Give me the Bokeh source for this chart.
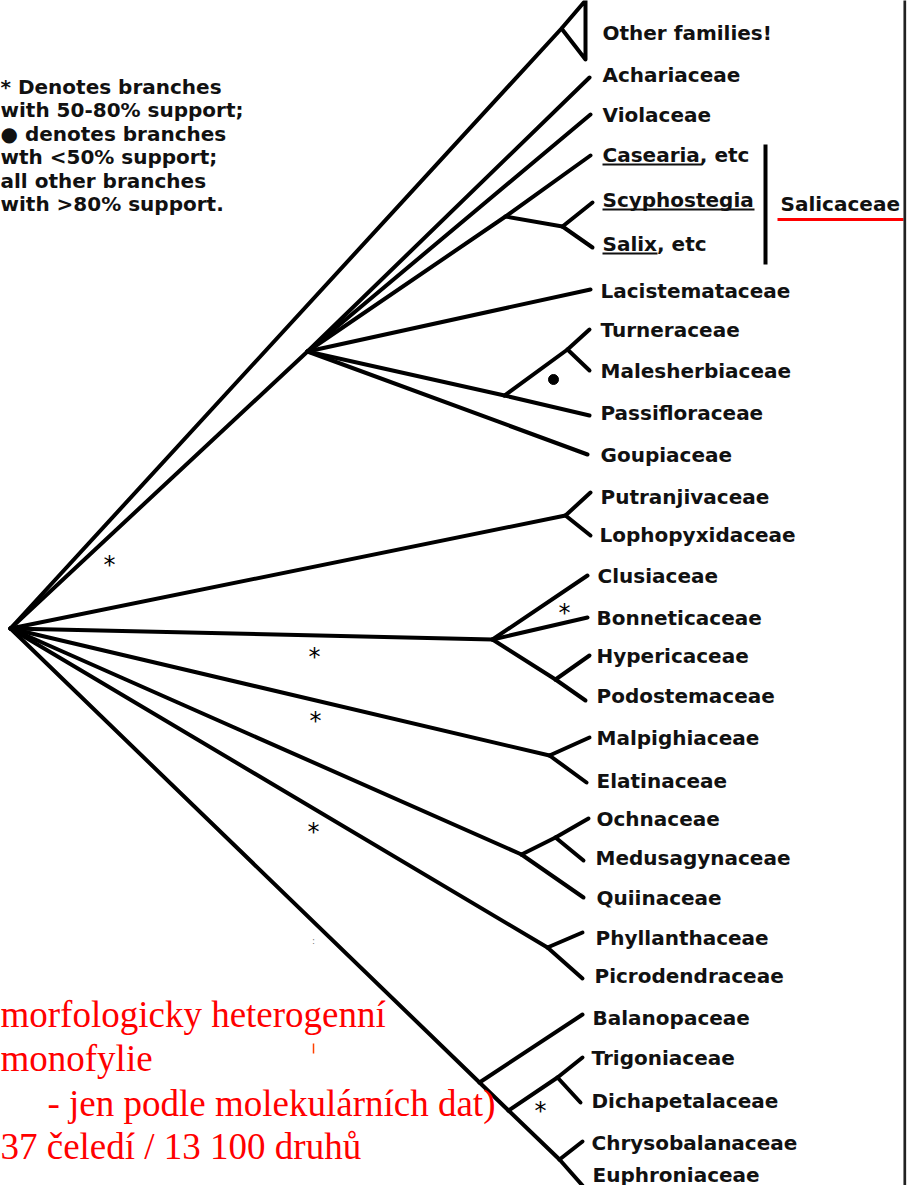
from bokeh.plotting import figure
from bokeh.models import Range1d
from bokeh.core.properties import value
from bokeh.embed import file_html
from bokeh.resources import INLINE

# ---------------- tree data (page units: x = depth, y = vertical order) -------------
node_id = ["root", "core", "others", "S1", "S2", "P1", "P2", "Q1", "C1", "C2",
           "M1", "O1", "O2", "F1", "B1", "B2", "T1", "B3"]
node_x = [18, 315, 569, 513, 570, 512, 575, 573, 500, 563,
          557, 529, 563, 555, 487, 516, 565, 567]
node_y = [636, 359, 36, 224, 234, 403, 357, 523, 647, 687,
          763, 862, 845, 955, 1090, 1118, 1085, 1167]
node_parent = [None, "root", "root", "core", "S1", "core", "P1", "root", "root", "C1",
               "root", "root", "O1", "root", "root", "B1", "B2", "B2"]

leaf_names = ["Achariaceae", "Violaceae", "Casearia, etc", "Scyphostegia", "Salix, etc",
              "Lacistemataceae", "Turneraceae", "Malesherbiaceae", "Passifloraceae",
              "Goupiaceae", "Putranjivaceae", "Lophopyxidaceae", "Clusiaceae",
              "Bonneticaceae", "Hypericaceae", "Podostemaceae", "Malpighiaceae",
              "Elatinaceae", "Ochnaceae", "Medusagynaceae", "Quiinaceae",
              "Phyllanthaceae", "Picrodendraceae", "Balanopaceae", "Trigoniaceae",
              "Dichapetalaceae", "Chrysobalanaceae", "Euphroniaceae"]
leaf_parent = ["core", "core", "S1", "S2", "S2", "core", "P2", "P2", "P1", "core",
               "Q1", "Q1", "C1", "C1", "C2", "C2", "M1", "M1", "O2", "O2", "O1",
               "F1", "F1", "B1", "T1", "T1", "B3", "B3"]
leaf_x = [597, 598, 598, 600, 600, 598, 597, 597, 597, 595,
          598, 598, 595, 595, 597, 593, 597, 594, 596, 591, 591,
          590, 590, 590, 590, 588, 590, 590]
leaf_y = [85, 122, 163, 210, 255, 297, 337, 378, 423, 462,
          500, 543, 583, 625, 663, 708, 745, 790, 826, 868, 905,
          940, 986, 1022, 1065, 1110, 1149, 1193]
label_x = [610, 610, 610, 610, 610, 608, 608, 608, 608, 608,
           608, 607, 605, 604, 604, 604, 604, 604, 604, 603, 604,
           603, 602, 600, 599, 599, 599, 600]
label_y = [82, 122, 162, 207, 251, 298, 337, 378, 420, 462,
           504, 542, 583, 625, 663, 703, 745, 788, 826, 865, 905,
           945, 983, 1025, 1065, 1108, 1150, 1182]

# collapsed clade "Other families!"
clade_name = "Other families!"
clade_tip_x = 593
clade_top_y = 8
clade_bottom_y = 67
clade_label = (610, 40)

# support marks
star_x = [117, 322, 323, 321, 572, 548]
star_y = [566, 658, 722, 833, 614, 1112]
dot_x = [561]
dot_y = [387]

# Salicaceae bracket
group_name = "Salicaceae"
group_bar_x = 773
group_bar_y = (152, 272)
group_label = (788, 211)
underlined = ["Casearia", "Scyphostegia", "Salix"]
underline_x0 = [610, 610, 610]
underline_x1 = [710, 762, 665]
underline_y = [172, 217, 261]

legend_lines = ["* Denotes branches", "with 50-80% support;", "\u25cf denotes branches",
                "wth <50% support;", "all other branches", "with >80% support."]
legend_y = [94, 117.5, 141, 164.5, 188, 211.5]

note_lines = ["morfologicky heterogenní", "monofylie",
              "- jen podle molekulárních dat)", "37 čeledí / 13 100 druhů"]
note_x = [8, 8, 55, 8]
note_y = [1022, 1066, 1111, 1154]

# ---------------- figure -------------
p = figure(width=908, height=1185, x_range=Range1d(8, 916), y_range=Range1d(1193, 8),
           toolbar_location=None, output_backend="svg", x_axis_type=None, y_axis_type=None,
           min_border=0)
p.grid.visible = False
p.outline_line_color = None
p.background_fill_color = "white"
p.border_fill_color = "white"

pos = dict(zip(node_id, zip(node_x, node_y)))
x0, y0, x1, y1 = [], [], [], []
for nid, par in zip(node_id, node_parent):
    if par is None:
        continue
    x0.append(pos[par][0]); y0.append(pos[par][1])
    x1.append(pos[nid][0]); y1.append(pos[nid][1])
for par, lx, ly in zip(leaf_parent, leaf_x, leaf_y):
    x0.append(pos[par][0]); y0.append(pos[par][1])
    x1.append(lx); y1.append(ly)

LW = 4
p.segment(x0=x0, y0=y0, x1=x1, y1=y1, line_color="black", line_width=LW, line_cap="round")

# collapsed clade triangle
ox, oy = pos["others"]
p.line(x=[ox, clade_tip_x, clade_tip_x, ox], y=[oy, clade_top_y, clade_bottom_y, oy],
       line_color="black", line_width=LW, line_join="round")

# labels
LFONT = value("DejaVu Sans")
LSIZE = "20px"
p.text(x=label_x, y=label_y, text=leaf_names, text_font=LFONT,
       text_font_style="bold", text_font_size=LSIZE, text_color="#111111",
       text_baseline="middle", text_align="left")
p.text(x=[clade_label[0]], y=[clade_label[1]], text=[clade_name], text_font=LFONT,
       text_font_style="bold", text_font_size=LSIZE, text_color="#111111",
       text_baseline="middle")
p.segment(x0=underline_x0, y0=underline_y, x1=underline_x1, y1=underline_y,
          line_color="#111111", line_width=2)

# Salicaceae group
p.segment(x0=[group_bar_x], y0=[group_bar_y[0]], x1=[group_bar_x], y1=[group_bar_y[1]],
          line_color="black", line_width=4)
p.text(x=[group_label[0]], y=[group_label[1]], text=[group_name], text_font=LFONT,
       text_font_style="bold", text_font_size=LSIZE, text_color="#111111",
       text_baseline="middle")
p.segment(x0=[785], y0=[227], x1=[911], y1=[227], line_color="red", line_width=3)

# support marks
p.text(x=star_x, y=[v + 6 for v in star_y], text=["*"] * len(star_x), text_font=LFONT,
       text_font_size="24px", text_color="black", text_align="center",
       text_baseline="middle")
p.scatter(x=dot_x, y=dot_y, size=10, marker="circle", color="black")

# legend text
p.text(x=[8] * len(legend_lines), y=legend_y, text=legend_lines, text_font=LFONT,
       text_font_style="bold", text_font_size=LSIZE, text_color="#111111",
       text_baseline="middle")

# stray marks
p.text(x=[321], y=[948], text=[":"], text_font=LFONT, text_font_size="9px",
       text_color="#777777", text_align="center", text_baseline="middle")
p.segment(x0=[321], y0=[1051], x1=[321], y1=[1061], line_color="#ff4000", line_width=1.5)

# page border line on the right
p.segment(x0=[912.3], y0=[0], x1=[912.3], y1=[1201], line_color="#222222", line_width=2.7)

# red note
p.text(x=note_x, y=note_y, text=note_lines, text_font=value("Liberation Serif"),
       text_font_size="37px", text_color="#ff0000", text_baseline="middle")

open("out.html", "w").write(file_html(p, INLINE))
